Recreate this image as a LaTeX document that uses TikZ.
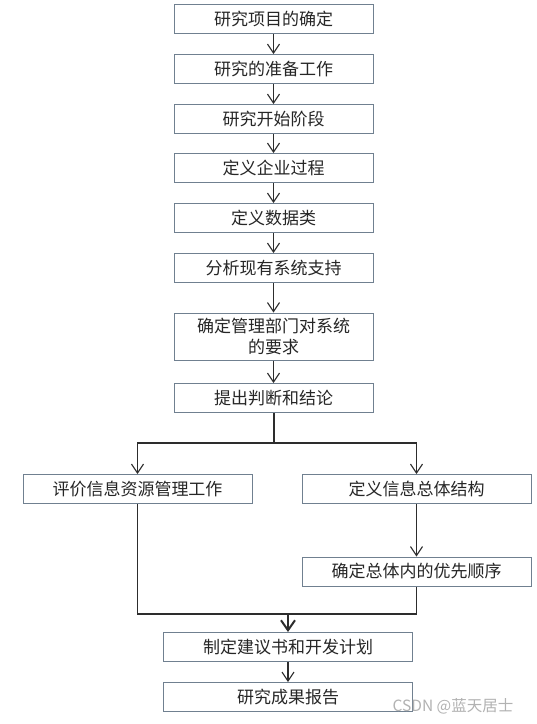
\documentclass[tikz,border=0pt]{standalone}
\usepackage{fontspec}
\setmainfont{Noto Sans CJK SC}
\usetikzlibrary{arrows.meta}
\definecolor{boxline}{RGB}{112,128,144}
\definecolor{flowline}{RGB}{45,45,45}

\begin{document}
\begin{tikzpicture}[x=1pt, y=-1pt, >={Straight Barb[length=9pt,width=12pt]}, font=\fontsize{17}{21}\selectfont,
  stage/.style={draw=boxline, line width=1pt, fill=white, minimum width=199pt, minimum height=29pt, inner sep=2pt, text=black!85},
  wide/.style={stage, minimum width=229pt},
  flow/.style={flowline, line width=1.1pt, ->}]

\useasboundingbox[fill=white] (0,0) rectangle (537,724);

\node[stage] (topic) at (273.5,19) {研究项目的确定}; %1
\node[stage] (prep) at (273.5,69) {研究的准备工作}; %2
\node[stage] (start) at (273.5,119) {研究开始阶段}; %3
\node[stage] (proc) at (273.5,168) {定义企业过程}; %4
\node[stage] (data) at (273.5,218) {定义数据类}; %5
\node[stage] (supp) at (273.5,268) {分析现有系统支持}; %6
\node[stage, minimum height=47pt, align=center] (needs) at (273.5,336.5) {确定管理部门对系统\\的要求}; %7
\node[stage] (concl) at (273.5,398) {提出判断和结论}; %8

\node[wide] (evalres) at (137.5,489) {评价信息资源管理工作}; %left
\node[wide] (arch) at (416.5,489) {定义信息总体结构}; %right
\node[wide] (prio) at (416.5,571.5) {确定总体内的优先顺序};

\node[stage, minimum width=249pt] (plan) at (288,647) {制定建议书和开发计划};
\node[stage, minimum width=249pt] (report) at (288,697) {研究成果报告};

\coordinate (fork) at (273.5,443);
\coordinate (forkl) at (137.5,443);
\coordinate (forkr) at (416.5,443);
\coordinate (joinl) at (137.5,614);
\coordinate (joinr) at (416.5,614);

\draw[flow] (topic) -- (prep);
\draw[flow] (prep) -- (start);
\draw[flow] (start) -- (proc);
\draw[flow] (proc) -- (data);
\draw[flow] (data) -- (supp);
\draw[flow] (supp) -- (needs);
\draw[flow] (needs) -- (concl);

\draw[flowline, line width=2pt] (concl) -- (fork); %fork
\draw[flow] (fork) -- (forkl) -- (evalres);
\draw[flow] (fork) -- (forkr) -- (arch);
\draw[flow] (arch) -- (prio);

\draw[flowline, line width=1.1pt] (evalres) -- (joinl) -- (joinr) -- (prio); %join
\draw[flowline, line width=2pt, ->, >={Straight Barb[length=10pt,width=14pt,line width=2pt]}] (plan.north |- joinl) -- (plan);
\draw[flow] (plan) -- (report);

\node[text=black!30, font=\fontsize{15.5}{18}\selectfont] (mark) at (453,706) {CSDN @蓝天居士};

\end{tikzpicture}
\end{document}
